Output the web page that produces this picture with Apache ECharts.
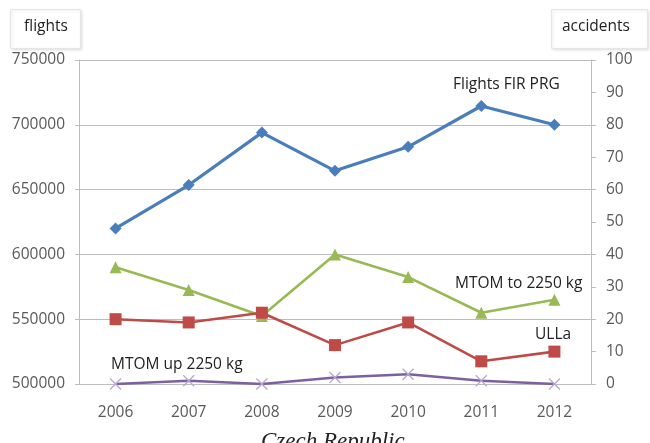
<!DOCTYPE html>
<html>
<head>
<meta charset="utf-8">
<script src="https://cdn.jsdelivr.net/npm/echarts@6/dist/echarts.min.js"></script>
<style>
  html, body { margin: 0; padding: 0; background: #fff; }
  #chart { width: 650px; height: 443px; }
</style>
</head>
<body>
<div id="chart"></div>
<script>
// Years on the category axis
const years = ['2006', '2007', '2008', '2009', '2010', '2011', '2012'];
// Flights in FIR Praha (left axis)
const flightsFirPrg = [620000, 653500, 694000, 664500, 683000, 714500, 700000];
// Accidents (right axis)
const mtomTo2250 = [36, 29, 21, 40, 33, 22, 26];
const ulla = [20, 19, 22, 12, 19, 7, 10];
const mtomUp2250 = [0, 1, 0, 2, 3, 1, 0];
// Axis ranges
const flightsMin = 500000, flightsMax = 750000, flightsStep = 50000;
const accMin = 0, accMax = 100, accStep = 10;

const FONT = 'Open Sans';
const FS = 15.5;
const crossPath = 'path://M0,0L10,10M10,0L0,10';

const chart = echarts.init(document.getElementById('chart'));
chart.setOption({
  animation: false,
  backgroundColor: '#fff',
  grid: { left: 79, right: 59, top: 60, bottom: 59, containLabel: false },
  xAxis: {
    type: 'category',
    data: years,
    boundaryGap: true,
    axisLine: { show: true, lineStyle: { color: '#bdbdbd', width: 1 } },
    axisTick: { show: false },
    axisLabel: { color: '#595959', fontFamily: FONT, fontSize: FS, margin: 21 }
  },
  yAxis: [
    {
      type: 'value', min: flightsMin, max: flightsMax, interval: flightsStep,
      axisLine: { show: true, lineStyle: { color: '#bdbdbd' } },
      axisTick: { show: true, length: 4, lineStyle: { color: '#bdbdbd' } },
      axisLabel: { color: '#595959', fontFamily: FONT, fontSize: FS, margin: 14,
                   formatter: v => String(v) },
      splitLine: { show: true, lineStyle: { color: '#bcbcbc', width: 1 } }
    },
    {
      type: 'value', min: accMin, max: accMax, interval: accStep,
      position: 'right',
      axisLine: { show: true, lineStyle: { color: '#bdbdbd' } },
      axisTick: { show: true, length: 5, inside: false, lineStyle: { color: '#bdbdbd' } },
      axisLabel: { color: '#595959', fontFamily: FONT, fontSize: FS, margin: 15 },
      splitLine: { show: false }
    }
  ],
  series: [
    {
      name: 'Flights FIR PRG', type: 'line', yAxisIndex: 0, data: flightsFirPrg,
      symbol: 'diamond', symbolSize: 12,
      lineStyle: { color: '#4a7ebb', width: 3.2 }, itemStyle: { color: '#4a7ebb' }
    },
    {
      name: 'MTOM to 2250 kg', type: 'line', yAxisIndex: 1, data: mtomTo2250,
      symbol: 'triangle', symbolSize: 12,
      lineStyle: { color: '#98b954', width: 2.6 }, itemStyle: { color: '#98b954' }
    },
    {
      name: 'ULLa', type: 'line', yAxisIndex: 1, data: ulla,
      symbol: 'rect', symbolSize: 12,
      lineStyle: { color: '#be4b48', width: 2.6 }, itemStyle: { color: '#be4b48' }
    },
    {
      name: 'MTOM up 2250 kg', type: 'line', yAxisIndex: 1, data: mtomUp2250,
      symbol: crossPath, symbolSize: 11,
      lineStyle: { color: '#7d60a0', width: 2.6 },
      itemStyle: { color: 'none', borderColor: '#b3a9d2', borderWidth: 1.3 }
    }
  ],
  graphic: [
    // axis title boxes
    { type: 'rect', left: 10, top: 9, shape: { width: 70, height: 39 },
      style: { fill: '#fff', stroke: '#e6e6e6', lineWidth: 1,
               shadowBlur: 3, shadowColor: 'rgba(0,0,0,0.12)', shadowOffsetX: 1, shadowOffsetY: 1 } },
    { type: 'text', left: 24, top: 19,
      style: { text: 'flights', fontFamily: FONT, fontSize: FS, fill: '#222' } },
    { type: 'rect', left: 551, top: 9, shape: { width: 96, height: 39 },
      style: { fill: '#fff', stroke: '#e6e6e6', lineWidth: 1,
               shadowBlur: 3, shadowColor: 'rgba(0,0,0,0.12)', shadowOffsetX: 1, shadowOffsetY: 1 } },
    { type: 'text', left: 562, top: 19,
      style: { text: 'accidents', fontFamily: FONT, fontSize: FS, fill: '#222' } },
    // series labels
    { type: 'text', left: 453, top: 77,
      style: { text: 'Flights FIR PRG', fontFamily: FONT, fontSize: FS, fill: '#222' } },
    { type: 'text', left: 455, top: 276,
      style: { text: 'MTOM to 2250 kg', fontFamily: FONT, fontSize: FS, fill: '#222' } },
    { type: 'text', left: 535, top: 327,
      style: { text: 'ULLa', fontFamily: FONT, fontSize: FS, fill: '#222' } },
    { type: 'text', left: 111, top: 357,
      style: { text: 'MTOM up 2250 kg', fontFamily: FONT, fontSize: FS, fill: '#222' } },
    // caption under the chart, partly below the bottom edge
    { type: 'text', left: 261, top: 430,
      style: { text: 'Czech Republic', fontFamily: 'Liberation Serif', fontStyle: 'italic',
               fontSize: 23, fill: '#222' } }
  ]
});
</script>
</body>
</html>
